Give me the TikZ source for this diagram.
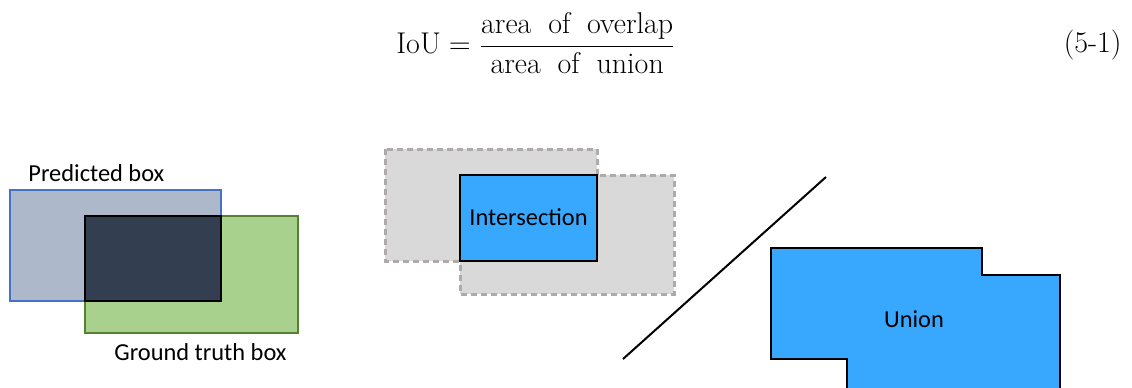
\documentclass[tikz,border=0pt]{standalone}
\usepackage{amsmath}
\usepackage{fontspec}
\newfontfamily\labelfont{Carlito}
\newcommand{\wordgap}{\hspace{0.56em}}
\definecolor{pdedge}{HTML}{4472C4}
\definecolor{pdfill}{HTML}{ADB9CA}
\definecolor{gtedge}{HTML}{548235}
\definecolor{gtfill}{HTML}{A9D18E}
\definecolor{overlap}{HTML}{333F50}
\definecolor{ioublue}{HTML}{38A8FF}
\definecolor{grayfill}{HTML}{D9D9D9}
\definecolor{grayedge}{HTML}{AEAAAA}
\tikzset{
  dashbox/.style={draw=grayedge, fill=grayfill, line width=1.5pt, dash pattern=on 3pt off 2pt},
  solidbox/.style={draw=black, line width=1pt},
}
\begin{document}
\begin{tikzpicture}[x=0.5pt, y=-0.5pt, every node/.style={font=\labelfont\fontsize{12.2}{14}\selectfont, inner sep=0pt}]
  \clip (0,0) rectangle (1132,387);

  % formula
  \node[anchor=west, font=\fontsize{15}{18}\selectfont] (iou) at (396,43)
    {$\mathrm{IoU}=\dfrac{\text{area\wordgap of\wordgap overlap}}{\text{area\wordgap of\wordgap union}}$};
  \node[anchor=east, font=\fontsize{15}{18}\selectfont] (eqno) at (1122,45) {(5-1)};

  % predicted and ground truth
  \draw[gtedge, line width=1pt, fill=gtfill] (85,216) rectangle (298,333);
  \draw[pdedge, line width=1pt, fill=pdfill] (10,190) rectangle (221,301);
  \draw[solidbox, fill=overlap] (85,216) rectangle (221,301);
  \node[anchor=west] (pred) at (28,173) {Predicted box};
  \node[anchor=west] (truth) at (114,352) {Ground truth box};

  % intersection
  \draw[dashbox] (385,149) rectangle (597,261);
  \draw[dashbox] (460,175) rectangle (674,294);
  \draw[solidbox, fill=ioublue] (460,175) rectangle (597,261);
  \node (inter) at (528.5,217) {Intersection};

  \draw[line width=1pt] (623,359) -- (826,177);

  % union
  \draw[solidbox, fill=ioublue] (771,248) -- (982,248) -- (982,275) -- (1060,275)
    -- (1060,400) -- (847,400) -- (847,359) -- (771,359) -- cycle;
  \node (union) at (914,319) {Union};
\end{tikzpicture}
\end{document}
